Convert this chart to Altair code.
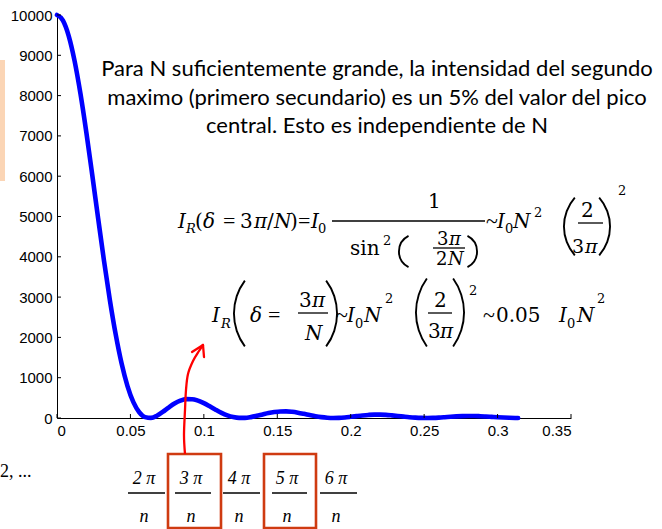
import math
import altair as alt
import pandas as pd

# Multi-slit intensity pattern, N = 100 (I0 = 1), sampled every 0.004 rad of phase
delta = [round(0.004 * k, 3) for k in range(79)] + [0.314]
intensity = [
    10000, 9867, 9478, 8856, 8041, 7081, 6033, 4955, 3903, 2927,
    2067, 1351, 792, 393, 143, 22, 3, 56, 151, 259,
    358, 431, 468, 467, 431, 368, 289, 205, 127, 64,
    22, 2, 3, 22, 53, 88, 122, 147, 162, 164,
    153, 132, 104, 73, 44, 21, 6, 0, 3, 14,
    30, 47, 63, 76, 83, 83, 77, 65, 51, 35,
    20, 9, 2, 0, 3, 10, 20, 31, 40, 47,
    50, 50, 45, 37, 28, 19, 11, 5, 1, 0,
]
x_ticks = [0, 0.05, 0.1, 0.15, 0.2, 0.25, 0.3, 0.35]
y_ticks = [0, 1000, 2000, 3000, 4000, 5000, 6000, 7000, 8000, 9000, 10000]

paragraph = [
    "Para N suficientemente grande, la intensidad del segundo",
    "maximo (primero secundario) es un 5% del valor del pico",
    "central. Esto es independiente de N",
]
phase_numerators = ["2 π", "3 π", "4 π", "5 π", "6 π"]

LEFT, TOP, W, H = 57, 15, 514, 403
TOTAL_W, TOTAL_H = 662, 529

curve_df = pd.DataFrame({"delta": delta, "intensity": intensity})

x_scale = alt.Scale(domain=[0, 0.35], nice=False, zero=False)
y_scale = alt.Scale(domain=[0, 10000], nice=False)

curve = alt.Chart(curve_df).mark_line(
    color="#0000ff", strokeWidth=4.6, interpolate="monotone", strokeCap="round"
).encode(
    x=alt.X("delta:Q", scale=x_scale, title=None,
            axis=alt.Axis(values=x_ticks, format="~g", labelPadding=5)),
    y=alt.Y("intensity:Q", scale=y_scale, title=None,
            axis=alt.Axis(values=y_ticks, format="d", labelPadding=5)),
)

# inward tick marks
x_tick_marks = alt.Chart(pd.DataFrame({"v": x_ticks})).mark_rule(
    color="black", strokeWidth=1
).encode(x=alt.X("v:Q", scale=x_scale, axis=None), y=alt.value(H), y2=alt.value(H - 4))
y_tick_marks = alt.Chart(pd.DataFrame({"v": y_ticks})).mark_rule(
    color="black", strokeWidth=1
).encode(y=alt.Y("v:Q", scale=y_scale, axis=None), x=alt.value(0), x2=alt.value(4))


def pix(df):
    df = df.copy()
    for c in ("x", "x2"):
        if c in df:
            df[c] = df[c] - LEFT
    for c in ("y", "y2"):
        if c in df:
            df[c] = df[c] - TOP
    return df


def text_layer(rows, **mark):
    df = pix(pd.DataFrame(rows, columns=["t", "x", "y", "s"]))
    return alt.Chart(df).mark_text(baseline="alphabetic", color="black", **mark).encode(
        x=alt.X("x:Q", scale=None, axis=None),
        y=alt.Y("y:Q", scale=None, axis=None),
        text="t:N",
        size=alt.Size("s:Q", scale=None, legend=None),
    )


SERIF = "DejaVu Serif"
B, S, F = 20, 13, 18  # body, script and inner-fraction sizes of the formulas

math_italic = [
    # row 1
    ("I", 178, 228, B), ("R", 186, 233, S), ("δ", 203, 228, B), ("π", 254, 228, B),
    ("N", 274, 228, B), ("I", 311, 228, B),
    ("π", 449, 245, F), ("N", 448, 265, F),
    ("I", 497, 228, B), ("N", 513, 228, B), ("π", 585, 253, 19),
    # row 2
    ("I", 212, 322, B), ("R", 221, 328, S), ("δ", 250, 322, B), ("π", 312, 307, B),
    ("N", 305, 340, B), ("I", 347, 322, B), ("N", 364, 322, B), ("π", 440, 338, B),
    ("I", 559, 322, B), ("N", 577, 322, B),
]
math_upright = [
    # row 1
    ("(", 195, 228, B), ("3", 240, 228, B), ("/", 267, 228, B),
    (")", 290, 228, B), ("0", 318, 233, S),
    ("1", 428, 208, B), ("sin", 350, 255, B), ("2", 383, 245, S),
    ("3", 437, 245, F), ("2", 436, 265, F),
    ("0", 505, 233, S), ("2", 534, 217, S),
    ("2", 581, 217, B), ("3", 572, 253, 19), ("2", 618, 195, S),
    # row 2
    ("3", 299, 307, B), ("0", 355, 328, S),
    ("2", 385, 303, S), ("2", 434, 307, B), ("3", 428, 338, B), ("2", 469, 295, S),
    ("0.05", 496, 322, B), ("0", 567, 328, S), ("2", 597, 303, S),
]
# relation signs, set in a narrower face
math_ops = [
    ("=", 223, 228, 22), ("=", 298, 228, 22), ("~", 486, 228, 22),
    ("=", 268, 322, 22), ("~", 336, 322, 22), ("~", 483, 322, 22),
    ("2, ...", 0, 477, 18),
]

bar_rows = [
    (332, 485, 221), (433, 465, 248), (578, 603, 223),
    (298, 328, 313), (428, 452, 313),
    (128, 165, 493), (175, 211, 493), (223, 260, 493), (272, 307, 493), (320, 357, 493),
]
bars_df = pix(pd.DataFrame(bar_rows, columns=["x", "x2", "y"]))
bars = alt.Chart(bars_df).mark_rule(color="black", strokeWidth=1.3).encode(
    x=alt.X("x:Q", scale=None, axis=None), x2="x2:Q",
    y=alt.Y("y:Q", scale=None, axis=None),
)

# fractions k·π / n under the axis
frac_centers = [144, 191, 239, 287, 336]
frac_rows = [(t, c, 484, 18) for t, c in zip(phase_numerators, frac_centers)]
frac_rows += [("n", c, 522, 18) for c in frac_centers]
fractions = text_layer(frac_rows, font="Liberation Serif", fontStyle="italic", align="center")

para_rows = [(line, 377, yb, 22) for line, yb in zip(paragraph, [76, 105, 133])]
para = text_layer(para_rows, font="Lato", align="center")


def paren(x_left, x_right, y_top, y_bot, side, width=1.9):
    chord = y_bot - y_top
    sag = (x_right - x_left) - width
    r = (chord ** 2 / 4 + sag ** 2) / (2 * sag)
    a = math.asin(min(1.0, chord / 2 / r))
    mid = 1.5 * math.pi if side == "left" else 0.5 * math.pi
    cx = (x_left + r) if side == "left" else (x_right - r)
    cy = (y_top + y_bot) / 2
    return alt.Chart(pd.DataFrame({"k": [0]})).mark_arc(
        theta=mid - a, theta2=mid + a, radius=r, radius2=r - width, color="black"
    ).encode(x=alt.value(cx - LEFT), y=alt.value(cy - TOP))


parens = [
    paren(398, 410, 235, 268, "left"), paren(466, 478, 235, 268, "right"),
    paren(563, 576, 197, 256, "left"), paren(598, 611, 197, 256, "right"),
    paren(233, 246, 280, 347, "left"), paren(325, 338, 280, 347, "right"),
    paren(415, 428, 278, 347, "left"), paren(452, 465, 278, 347, "right"),
]

# highlighted phase boxes
box_df = pix(pd.DataFrame([(168, 221, 454, 528), (264, 316, 454, 528)],
                          columns=["x", "x2", "y", "y2"]))
boxes = alt.Chart(box_df).mark_rect(
    fillOpacity=0, stroke="#cf3b11", strokeWidth=2.6
).encode(
    x=alt.X("x:Q", scale=None, axis=None), x2="x2:Q",
    y=alt.Y("y:Q", scale=None, axis=None), y2="y2:Q",
)

# red arrow from the 3π/n box to the first secondary maximum
arrow_pts = [(185, 454), (184, 435), (185, 410), (186, 390), (188, 374),
             (193, 361), (199, 351), (203, 345)]
arrow_df = pix(pd.DataFrame(arrow_pts, columns=["x", "y"]))
arrow_df["i"] = range(len(arrow_df))
arrow = alt.Chart(arrow_df).mark_line(
    color="#ff0000", strokeWidth=2.3, interpolate="cardinal"
).encode(
    x=alt.X("x:Q", scale=None, axis=None),
    y=alt.Y("y:Q", scale=None, axis=None),
    order="i:Q",
)
head_df = pix(pd.DataFrame([(203, 192, 345, 352), (203, 204, 345, 357)],
                           columns=["x", "x2", "y", "y2"]))
head = alt.Chart(head_df).mark_rule(color="#ff0000", strokeWidth=2.3, strokeCap="round").encode(
    x=alt.X("x:Q", scale=None, axis=None), x2="x2:Q",
    y=alt.Y("y:Q", scale=None, axis=None), y2="y2:Q",
)

# peach strip at the left edge
strip = alt.Chart(pd.DataFrame({"k": [0]})).mark_rect(color="#fbd5b5").encode(
    x=alt.value(0 - LEFT), x2=alt.value(5 - LEFT),
    y=alt.value(60 - TOP), y2=alt.value(181 - TOP),
)

chart = alt.layer(
    strip,
    curve,
    x_tick_marks,
    y_tick_marks,
    para,
    text_layer(math_italic, font=SERIF, fontStyle="italic", align="left"),
    text_layer(math_upright, font=SERIF, align="left"),
    text_layer(math_ops, font="Liberation Serif", align="left"),
    bars,
    *parens,
    fractions,
    boxes,
    arrow,
    head,
).resolve_axis(
    x="independent", y="independent"
).properties(
    width=W,
    height=H,
    padding={"left": LEFT, "top": TOP, "right": TOTAL_W - LEFT - W, "bottom": TOTAL_H - TOP - H},
    autosize=alt.AutoSizeParams(type="none"),
    background="white",
).configure_view(
    stroke=None
).configure_axis(
    grid=False,
    ticks=False,
    domainColor="black",
    domainWidth=1,
    labelFont="Liberation Sans",
    labelFontSize=15,
    labelColor="black",
)

chart.save("out.html", embed_options={"renderer": "svg", "actions": False})
